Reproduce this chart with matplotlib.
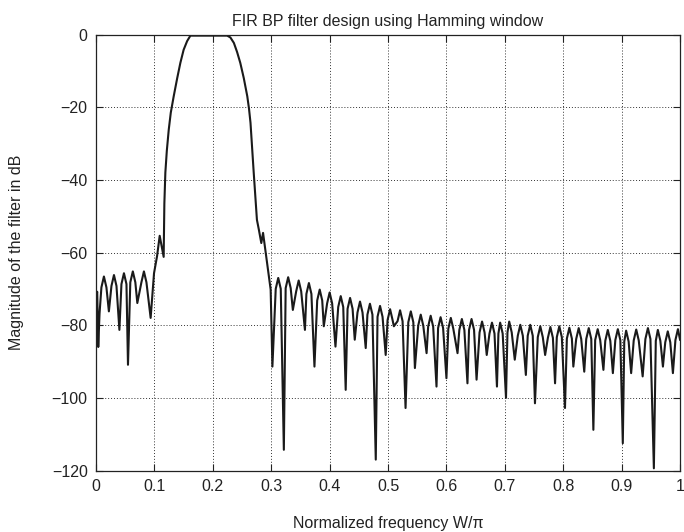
import matplotlib
matplotlib.use("Agg")
import matplotlib.pyplot as plt

freq = [0.000, 0.002, 0.0038, 0.006, 0.0092, 0.0135, 0.0178, 0.022, 0.0264, 0.0307,
        0.035, 0.040, 0.0435, 0.0478, 0.0521, 0.0547, 0.0587, 0.063, 0.0673, 0.0707,
        0.0777, 0.082, 0.0863, 0.0935, 0.0993, 0.1045, 0.109, 0.1158, 0.117, 0.1187,
        0.1212, 0.1245, 0.128, 0.133, 0.139, 0.1444, 0.150, 0.156, 0.1616,
        0.2245, 0.230, 0.236, 0.2415, 0.247, 0.253, 0.259, 0.262, 0.2645, 0.267,
        0.270, 0.2755, 0.2788, 0.283, 0.286, 0.293, 0.299, 0.302,
        0.3077, 0.312, 0.3163, 0.3216, 0.3247, 0.329, 0.3333, 0.337,
        0.3427, 0.347, 0.3513, 0.3577, 0.3602, 0.3645, 0.3688, 0.374,
        0.3787, 0.383, 0.3873, 0.390, 0.3957, 0.400, 0.4043, 0.410,
        0.4147, 0.419, 0.4233, 0.4275, 0.4307, 0.435, 0.4393, 0.443,
        0.4477, 0.452, 0.4563, 0.4618, 0.4647, 0.469, 0.4733, 0.479,
        0.482, 0.4863, 0.4906, 0.496, 0.4992, 0.5035, 0.5078, 0.510,
        0.5163, 0.5206, 0.5249, 0.530, 0.5347, 0.539, 0.5433, 0.546,
        0.5517, 0.556, 0.5603, 0.566, 0.5687, 0.573, 0.5773, 0.583,
        0.5857, 0.590, 0.5943, 0.600, 0.6032, 0.6075, 0.6118, 0.619,
        0.6221, 0.6264, 0.6307, 0.636, 0.6387, 0.643, 0.6473, 0.6516,
        0.6567, 0.661, 0.6653, 0.669, 0.6737, 0.678, 0.6823, 0.6865,
        0.689, 0.692, 0.6963, 0.702, 0.7045, 0.7075, 0.7118, 0.717,
        0.7222, 0.7265, 0.7308, 0.736, 0.7392, 0.7435, 0.7478, 0.7516,
        0.7564, 0.7607, 0.765, 0.769, 0.7737, 0.778, 0.7823, 0.786,
        0.789, 0.7933, 0.7976, 0.803, 0.8062, 0.8105, 0.8148, 0.8173,
        0.8222, 0.8265, 0.8308, 0.836, 0.8394, 0.8437, 0.848, 0.8516,
        0.8547, 0.859, 0.8633, 0.8688, 0.872, 0.8763, 0.8806, 0.885,
        0.8892, 0.8935, 0.8978, 0.902, 0.9045, 0.9077, 0.912, 0.9163,
        0.9207, 0.925, 0.9293, 0.936, 0.9407, 0.945, 0.9493, 0.9552,
        0.9585, 0.962, 0.9663, 0.9707, 0.9747, 0.979, 0.9833, 0.9878,
        0.9921, 0.9964, 1.000]

mag_db = [-72.0, -70.8, -86.0, -76.8, -69.6, -66.6, -69.6, -76.2, -69.2, -66.2,
          -69.2, -81.3, -68.7, -65.7, -68.7, -90.9, -68.2, -65.2, -68.2, -73.9,
          -68.2, -65.2, -68.2, -78.0, -65.7, -61.0, -55.4, -61.2, -46.5, -38.0,
          -32.0, -26.2, -21.5, -17.0, -12.0, -7.8, -4.2, -1.8, -0.3,
          -0.3, -0.8, -2.3, -4.8, -7.8, -12.0, -17.0, -20.5, -24.3, -30.5,
          -38.0, -51.0, -53.7, -57.4, -54.6, -62.9, -70.2, -91.4,
          -70.0, -67.0, -70.0, -114.3, -69.8, -66.8, -69.8, -75.8,
          -70.7, -67.7, -70.7, -81.3, -71.4, -68.4, -71.4, -91.4,
          -73.2, -70.2, -73.2, -80.3, -74.0, -71.0, -74.0, -85.9,
          -75.0, -72.0, -75.0, -97.8, -75.5, -72.5, -75.5, -84.0,
          -76.5, -73.5, -76.5, -86.3, -77.1, -74.1, -77.1, -117.0,
          -77.7, -74.7, -77.7, -88.2, -78.6, -75.6, -78.6, -80.3,
          -78.9, -75.9, -78.9, -102.8, -79.2, -76.2, -79.2, -91.8,
          -80.1, -77.1, -80.1, -87.7, -80.4, -77.4, -80.4, -96.9,
          -80.8, -77.8, -80.8, -94.6, -81.0, -78.0, -81.0, -87.7,
          -81.3, -78.3, -81.3, -96.0, -81.3, -78.3, -81.3, -95.0,
          -82.0, -79.0, -82.0, -88.2, -82.3, -79.3, -82.3, -96.9,
          -82.3, -79.3, -82.3, -100.0, -82.0, -79.0, -82.0, -89.5,
          -82.9, -79.9, -82.9, -93.7, -82.9, -79.9, -82.9, -101.5,
          -83.3, -80.3, -83.3, -88.2, -83.5, -80.5, -83.5, -96.0,
          -83.3, -80.3, -83.3, -102.8, -83.7, -80.7, -83.7, -91.4,
          -83.8, -80.8, -83.8, -92.8, -83.8, -80.8, -83.8, -108.8,
          -84.1, -81.1, -84.1, -92.3, -84.3, -81.3, -84.3, -93.2,
          -84.1, -81.1, -84.1, -112.5, -84.5, -81.5, -84.5, -93.2,
          -84.2, -81.2, -84.2, -94.1, -83.8, -80.8, -83.8, -119.4,
          -84.3, -81.3, -84.3, -91.4, -84.7, -81.7, -84.7, -93.2,
          -84.1, -81.1, -84.0]

xticks = [0, 0.1, 0.2, 0.3, 0.4, 0.5, 0.6, 0.7, 0.8, 0.9, 1]
xticklabels = ["0", "0.1", "0.2", "0.3", "0.4", "0.5", "0.6", "0.7", "0.8", "0.9", "1"]
yticks = [-120, -100, -80, -60, -40, -20, 0]
yticklabels = ["\u2212120", "\u2212100", "\u221280", "\u221260", "\u221240", "\u221220", "0"]

plt.rcParams['font.family'] = ['Liberation Sans', 'DejaVu Sans']

fig = plt.figure(figsize=(6.84, 5.32), dpi=100)
ax = fig.add_axes([0.1404, 0.1156, 0.8538, 0.8195])

ax.plot(freq, mag_db, color='#1a1a1a', linewidth=1.5, solid_joinstyle='round')

ax.set_xlim(0, 1)
ax.set_ylim(-120, 0)
ax.set_xticks(xticks)
ax.set_xticklabels(xticklabels)
ax.set_yticks(yticks)
ax.set_yticklabels(yticklabels)
ax.tick_params(direction='in', length=5, width=0.8, top=True, right=True,
               labelsize=11.5, pad=6, colors='#222222')
ax.grid(True, linestyle=(0, (1, 2)), color='#333333', linewidth=0.7)
for s in ax.spines.values():
    s.set_linewidth(0.9)
    s.set_color('#222222')

ax.set_title("FIR BP filter design using Hamming window", fontsize=11.5, pad=6, color='#222222')
ax.set_xlabel("Normalized frequency W/\u03c0", fontsize=11.5, labelpad=16, color='#222222')
ax.set_ylabel("Magnitude of the filter in dB", fontsize=11.5, labelpad=20, color='#222222')

fig.savefig("out.png", dpi=100)
